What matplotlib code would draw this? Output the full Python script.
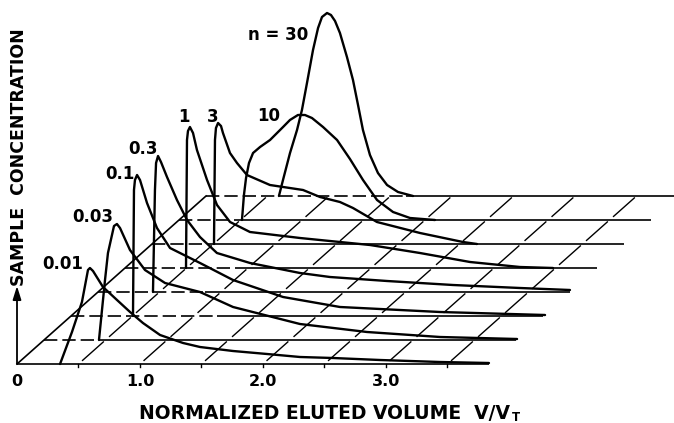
import numpy as np
import matplotlib
matplotlib.use("Agg")
import matplotlib.pyplot as plt

# ---------------- data ----------------
# each curve: normalized eluted volume V/VT and sample concentration (arbitrary units)
labels = ["0.01", "0.03", "0.1", "0.3", "1", "3", "10", "n = 30"]

v_n001 = [0.350, 0.447, 0.528, 0.577, 0.593, 0.618, 0.699, 0.813, 0.919, 1.024, 1.163, 1.350, 1.488,
          1.756, 2.033, 2.301, 2.569, 2.951, 3.439, 3.837]
c_n001 = [0.00, 0.32, 0.62, 0.94, 0.96, 0.93, 0.77, 0.64, 0.52, 0.41, 0.29, 0.21, 0.17,
          0.13, 0.10, 0.07, 0.06, 0.04, 0.02, 0.01]

v_n003 = [0.447, 0.496, 0.520, 0.569, 0.593, 0.618, 0.699, 0.821, 0.984, 1.268, 1.537, 2.081,
          2.626, 3.220, 3.846]
c_n003 = [0.00, 0.60, 0.87, 1.14, 1.16, 1.12, 0.90, 0.70, 0.57, 0.48, 0.33, 0.16,
          0.08, 0.03, 0.01]

v_n01 = [0.504, 0.512, 0.520, 0.537, 0.561, 0.618, 0.699, 0.805, 1.049, 1.317, 1.724, 2.187,
         3.000, 3.854]
c_n01 = [0.00, 1.26, 1.36, 1.41, 1.36, 1.13, 0.88, 0.68, 0.53, 0.36, 0.19, 0.09,
         0.04, 0.01]

v_n03 = [0.447, 0.463, 0.472, 0.488, 0.512, 0.561, 0.642, 0.724, 0.829, 0.967, 1.236, 1.642,
         1.886, 2.350, 2.886, 3.431, 3.837]
c_n03 = [0.00, 1.02, 1.29, 1.36, 1.30, 1.15, 0.92, 0.72, 0.55, 0.39, 0.29, 0.19,
         0.15, 0.11, 0.07, 0.04, 0.02]

v_n1 = [0.496, 0.504, 0.512, 0.528, 0.553, 0.585, 0.667, 0.748, 0.854, 1.016, 1.423, 1.585,
        1.992, 2.398, 2.805, 3.211, 3.480]
c_n1 = [0.00, 1.28, 1.37, 1.41, 1.35, 1.18, 0.88, 0.63, 0.46, 0.36, 0.30, 0.28,
        0.23, 0.15, 0.06, 0.01, 0.00]

v_n3 = [0.504, 0.512, 0.520, 0.537, 0.561, 0.577, 0.634, 0.691, 0.772, 0.959, 1.228, 1.366,
        1.528, 1.634, 1.829, 2.179, 2.528, 2.642]
c_n3 = [0.00, 1.04, 1.16, 1.21, 1.18, 1.11, 0.91, 0.81, 0.69, 0.59, 0.54, 0.47,
        0.42, 0.36, 0.22, 0.11, 0.02, 0.00]

v_n10 = [0.512, 0.528, 0.545, 0.569, 0.602, 0.659, 0.740, 0.846, 0.902, 0.967, 1.024, 1.081,
         1.171, 1.285, 1.390, 1.496, 1.610, 1.740, 1.878, 2.081]
c_n10 = [0.00, 0.25, 0.42, 0.57, 0.67, 0.73, 0.80, 0.93, 1.00, 1.05, 1.05, 1.02,
         0.93, 0.80, 0.61, 0.40, 0.20, 0.08, 0.02, 0.00]

v_n30 = [0.593, 0.626, 0.683, 0.740, 0.780, 0.821, 0.870, 0.911, 0.943, 0.984, 1.016, 1.049,
         1.089, 1.146, 1.195, 1.236, 1.276, 1.333, 1.398, 1.472, 1.561, 1.683]
c_n30 = [0.00, 0.16, 0.43, 0.66, 0.86, 1.13, 1.46, 1.68, 1.79, 1.83, 1.81, 1.75,
         1.63, 1.39, 1.16, 0.91, 0.66, 0.41, 0.23, 0.11, 0.04, 0.00]

curves_v = [v_n001, v_n003, v_n01, v_n03, v_n1, v_n3, v_n10, v_n30]
curves_c = [c_n001, c_n003, c_n01, c_n03, c_n1, c_n3, c_n10, c_n30]

# V/VT up to which each baseline is drawn dashed (hidden part)
dashed_to = [0.0, 0.447, 1.19, 0.87, 0.96, 0.504, 0.52, 1.63]

tick_values = [0.0, 1.0, 2.0, 3.0]
tick_labels = ["0", "1.0", "2.0", "3.0"]
grid_values = [0.5, 1.0, 1.5, 2.0, 2.5, 3.0, 3.5]
v_end = 3.84          # length of each baseline (V/VT)

# ---------------- layout ----------------
DX = 27 / 123          # depth shift per layer along V
DY = 0.24              # depth shift per layer along concentration
label_offsets = [(-27, 4), (-24, 7), (-17, 1), (-15, 7), (-6, 10), (-5, 6), (-29, -1), (-49, -22)]

fig = plt.figure(figsize=(6.74, 4.23), dpi=100)
ax = fig.add_axes([0, 0, 1, 1])
ax.set_xlim(-17 / 123, (674 - 17) / 123)
ax.set_ylim(-0.59, 3.64)
ax.axis("off")

K = "black"
n_layers = len(curves_v)
dash = (0, (8, 3))

# baselines: hidden part dashed, rest solid
for k in range(n_layers):
    x0 = k * DX
    y0 = k * DY
    d = dashed_to[k]
    if d > 0:
        ax.plot([x0, x0 + d], [y0, y0], color=K, lw=1.2, ls=dash, zorder=2)
    ax.plot([x0 + d, x0 + v_end], [y0, y0], color=K, lw=1.2, zorder=2, solid_capstyle="butt")

# depth line at V = 0
ax.plot([0, (n_layers - 1) * DX], [0, (n_layers - 1) * DY], color=K, lw=1.2, zorder=2)

# depth hatch lines at each grid value
for g in grid_values:
    for k in range(n_layers - 1):
        ta, tb = k + 0.15, k + 0.92
        ax.plot([g + ta * DX, g + tb * DX], [ta * DY, tb * DY], color=K, lw=1.0, zorder=1)
    ax.plot([g, g], [0, -0.03], color=K, lw=1.0, zorder=1)

# curves
for k in range(n_layers):
    X = np.asarray(curves_v[k]) + k * DX
    Y = np.asarray(curves_c[k]) + k * DY
    ax.plot(X, Y, color=K, lw=1.7, zorder=3, solid_joinstyle="round", solid_capstyle="round")
    ip = int(np.argmax(curves_c[k]))
    ax.annotate(labels[k], xy=(X[ip], Y[ip]), xytext=label_offsets[k], textcoords="offset pixels",
                ha="center", va="center", fontsize=12, fontweight="bold", color=K)

# concentration axis arrow
ax.annotate("", xy=(0, 0.78), xytext=(0, 0),
            arrowprops=dict(arrowstyle="-|>,head_length=0.8,head_width=0.25", color=K, lw=1.3,
                            shrinkA=0, shrinkB=0))

# tick labels
for tv, tl in zip(tick_values, tick_labels):
    ax.text(tv, -0.17, tl, ha="center", va="center", fontsize=11.5, fontweight="bold", color=K)

ax.text(0.018, 2.07, "SAMPLE  CONCENTRATION", rotation=90, ha="center", va="center",
        fontsize=12.5, fontweight="bold", color=K)
xl = ax.text(2.50, -0.49, "NORMALIZED ELUTED VOLUME  V/V", ha="center", va="center",
             fontsize=13.5, fontweight="bold", color=K)
ax.annotate("T", xy=(1, 0.25), xycoords=xl, xytext=(1, 0), textcoords="offset points",
            ha="left", va="center", fontsize=8.5, fontweight="bold", color=K)

fig.savefig("out.png", dpi=100)
